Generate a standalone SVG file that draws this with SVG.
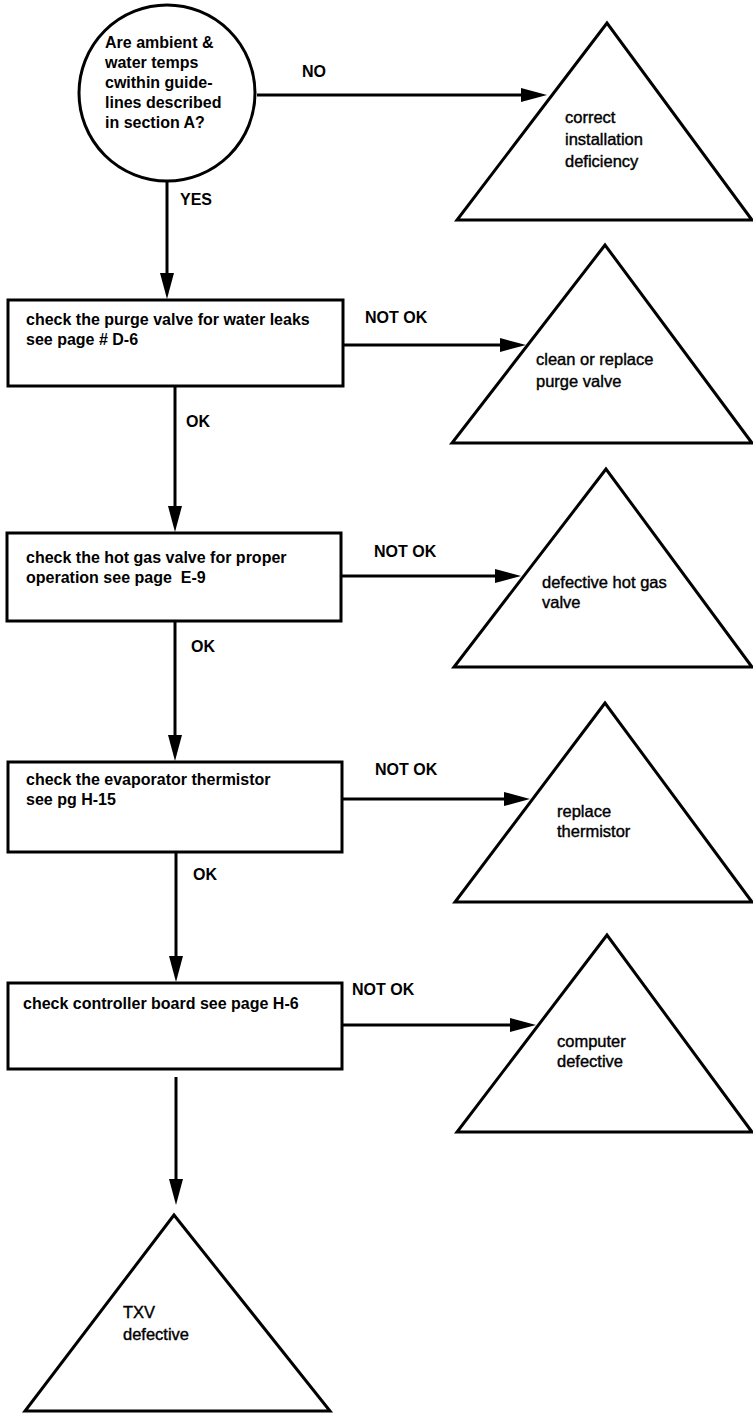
<svg xmlns="http://www.w3.org/2000/svg" width="753" height="1414" viewBox="0 0 753 1414">
  <style>
    .shape { fill: #ffffff; stroke: #000000; stroke-width: 3; stroke-linejoin: miter; }
    .wire { fill: none; stroke: #000000; stroke-width: 3; marker-end: url(#head); }
    .lbl { font-family: "Liberation Sans", Arial, Helvetica, sans-serif; font-size: 16px; font-weight: bold; fill: #000000; }
    .note { font-family: "Liberation Sans", Arial, Helvetica, sans-serif; font-size: 16.5px; font-weight: normal; fill: #000000; stroke: #000000; stroke-width: 0.4; }
  </style>
  <defs>
    <marker id="head" markerUnits="userSpaceOnUse" markerWidth="26" markerHeight="16" refX="6" refY="8" orient="auto">
      <path d="M0,1 L26,8 L0,15 z" fill="#000000"/>
    </marker>
  </defs>
  <rect width="753" height="1414" fill="#ffffff"/>

  <!-- connectors -->
  <g id="connectors">
    <line class="wire" x1="257" y1="95" x2="527" y2="95"/>
    <line class="wire" x1="167" y1="181" x2="167" y2="279"/>
    <line class="wire" x1="343" y1="345" x2="506" y2="345"/>
    <line class="wire" x1="175" y1="386" x2="175" y2="512"/>
    <line class="wire" x1="342" y1="576" x2="501" y2="576"/>
    <line class="wire" x1="175" y1="621" x2="175" y2="741"/>
    <line class="wire" x1="342" y1="799" x2="510" y2="799"/>
    <line class="wire" x1="176" y1="852" x2="176" y2="962"/>
    <line class="wire" x1="342" y1="1025" x2="516" y2="1025"/>
    <line class="wire" x1="176" y1="1077" x2="176" y2="1185"/>
    <text class="lbl" x="302" y="77">NO</text>
    <text class="lbl" x="180" y="205">YES</text>
    <text class="lbl" x="365" y="323">NOT OK</text>
    <text class="lbl" x="186" y="427">OK</text>
    <text class="lbl" x="374" y="557">NOT OK</text>
    <text class="lbl" x="191" y="652">OK</text>
    <text class="lbl" x="375" y="775">NOT OK</text>
    <text class="lbl" x="193" y="880">OK</text>
    <text class="lbl" x="352" y="995">NOT OK</text>
  </g>

  <!-- decision: site conditions -->
  <g id="q-ambient">
    <circle class="shape" cx="167" cy="93" r="88"/>
    <text class="lbl" x="105">
      <tspan x="105" y="48">Are ambient &amp;</tspan>
      <tspan x="105" y="68">water temps</tspan>
      <tspan x="105" y="88">cwithin guide-</tspan>
      <tspan x="105" y="108">lines described</tspan>
      <tspan x="105" y="128">in section A?</tspan>
    </text>
  </g>

  <g id="fix-install">
    <polygon class="shape" points="607,23 457,220 752,220"/>
    <text class="note">
      <tspan x="565" y="123">correct</tspan>
      <tspan x="565" y="145">installation</tspan>
      <tspan x="565" y="167">deficiency</tspan>
    </text>
  </g>

  <g id="chk-purge">
    <rect class="shape" x="8" y="300" width="335" height="86"/>
    <text class="lbl">
      <tspan x="26" y="325">check the purge valve for water leaks</tspan>
      <tspan x="26" y="345">see page # D-6</tspan>
    </text>
  </g>

  <g id="fix-purge">
    <polygon class="shape" points="605,245 452,443 752,443"/>
    <text class="note">
      <tspan x="536" y="365">clean or replace</tspan>
      <tspan x="536" y="387">purge valve</tspan>
    </text>
  </g>

  <g id="chk-hotgas">
    <rect class="shape" x="7" y="533" width="334" height="88"/>
    <text class="lbl">
      <tspan x="26" y="563">check the hot gas valve for proper</tspan>
      <tspan x="26" y="583">operation see page&#160; E-9</tspan>
    </text>
  </g>

  <g id="fix-hotgas">
    <polygon class="shape" points="606,469 454,667 752,667"/>
    <text class="note">
      <tspan x="542" y="588">defective hot gas</tspan>
      <tspan x="542" y="608">valve</tspan>
    </text>
  </g>

  <g id="chk-thermistor">
    <rect class="shape" x="8" y="762" width="334" height="90"/>
    <text class="lbl">
      <tspan x="26" y="785">check the evaporator thermistor</tspan>
      <tspan x="26" y="805">see pg H-15</tspan>
    </text>
  </g>

  <g id="fix-thermistor">
    <polygon class="shape" points="605,703 455,902 752,902"/>
    <text class="note">
      <tspan x="557" y="817">replace</tspan>
      <tspan x="557" y="837">thermistor</tspan>
    </text>
  </g>

  <g id="chk-controller">
    <rect class="shape" x="8" y="983" width="334" height="86"/>
    <text class="lbl">
      <tspan x="23" y="1009">check controller board see page H-6</tspan>
    </text>
  </g>

  <g id="fix-computer">
    <polygon class="shape" points="607,935 457,1132 752,1132"/>
    <text class="note">
      <tspan x="557" y="1047">computer</tspan>
      <tspan x="557" y="1067">defective</tspan>
    </text>
  </g>

  <g id="fix-txv">
    <polygon class="shape" points="174,1215 25,1411 330,1411"/>
    <text class="note">
      <tspan x="123" y="1318">TXV</tspan>
      <tspan x="123" y="1340">defective</tspan>
    </text>
  </g>
</svg>
